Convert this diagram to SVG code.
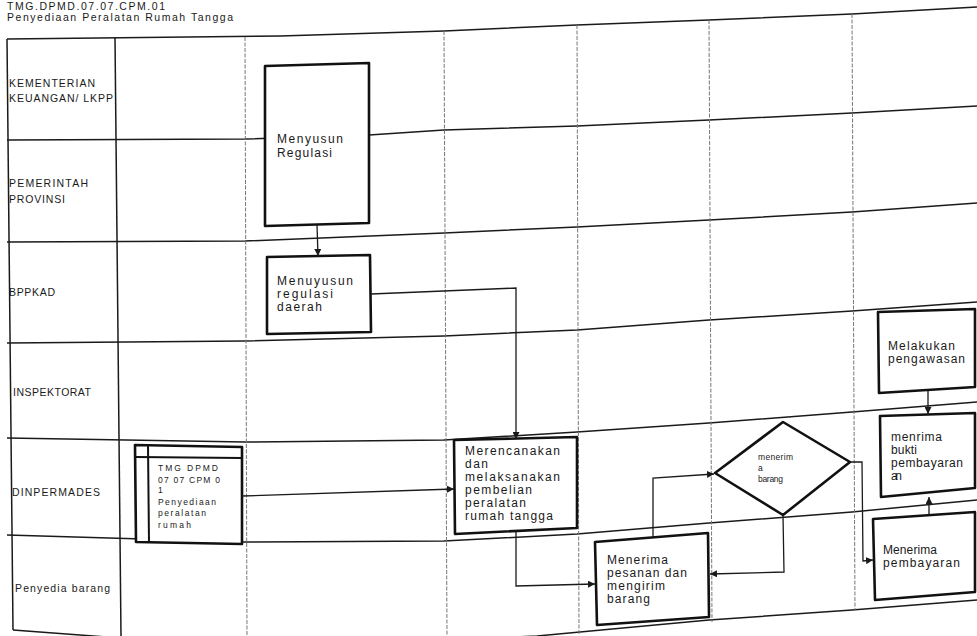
<svg xmlns="http://www.w3.org/2000/svg" width="977" height="636" viewBox="0 0 977 636">
<defs>
<style>
.lane{fill:none;stroke:#1a1a1a;stroke-width:1.5}
.col{fill:none;stroke:#777;stroke-width:1;stroke-dasharray:4 1.5}
.box{fill:#fff;stroke:#111;stroke-width:2.6;stroke-linejoin:round}
.thin{fill:none;stroke:#111;stroke-width:2}
.cn{fill:none;stroke:#1a1a1a;stroke-width:1.3;marker-end:url(#ah)}
.t{font-family:"Liberation Sans",Arial,sans-serif;fill:#1a1a1a}
.lbl{font-size:10.5px}
.bx{font-size:12px}
.sm{font-size:8.5px}
.ttl{font-size:10.5px}
</style>
<marker id="ah" viewBox="0 0 8 8" refX="8" refY="4" markerWidth="7" markerHeight="7" markerUnits="userSpaceOnUse" orient="auto">
<path d="M0,0 L8,4 L0,8 z" fill="#1a1a1a"/>
</marker>
</defs>
<rect width="977" height="636" fill="#fff"/>

<g id="title">
<text class="t ttl" x="7" y="9.5" textLength="158" lengthAdjust="spacing">TMG.DPMD.07.07.CPM.01</text>
<text class="t ttl" x="7" y="21" textLength="226" lengthAdjust="spacing">Penyediaan Peralatan Rumah Tangga</text>
</g>

<g id="grid">
<polyline class="lane" points="7,39 280,36 444,31 577,25 709,20 852,14 977,7"/>
<polyline class="lane" points="7,140 245,139 369,135 444,130 577,126 709,120 852,113 977,106"/>
<polyline class="lane" points="7,242 245,241 444,233 577,227 709,220 852,212 977,203"/>
<polyline class="lane" points="7,343 245,341 444,336 577,330 709,320 852,311 977,302"/>
<polyline class="lane" points="7,438 245,442 444,440 577,432 709,423 852,412 977,402"/>
<polyline class="lane" points="7,535 245,542 444,541 577,534 709,523 852,512 977,500"/>
<polyline class="lane" points="13,630 120,638 300,645 450,640 537,636 709,620 852,610 977,600"/>
<line class="lane" x1="7" y1="39" x2="13" y2="630" stroke-width="1.8"/>
<line class="lane" x1="115" y1="38" x2="121" y2="636"/>
<line class="col" x1="245" y1="37" x2="247" y2="636"/>
<line class="col" x1="444" y1="31" x2="447" y2="636"/>
<line class="col" x1="577" y1="25" x2="579" y2="634"/>
<line class="col" x1="709" y1="20" x2="712" y2="622"/>
<line class="col" x1="852" y1="14" x2="855" y2="610"/>
</g>

<g id="lanes">
<text class="t lbl" x="9" y="87" textLength="86" lengthAdjust="spacing">KEMENTERIAN</text>
<text class="t lbl" x="9" y="102" textLength="104" lengthAdjust="spacing">KEUANGAN/ LKPP</text>
<text class="t lbl" x="9" y="187" textLength="79" lengthAdjust="spacing">PEMERINTAH</text>
<text class="t lbl" x="9" y="203" textLength="56" lengthAdjust="spacing">PROVINSI</text>
<text class="t lbl" x="9" y="296" textLength="46" lengthAdjust="spacing">BPPKAD</text>
<text class="t lbl" x="13" y="396" textLength="78" lengthAdjust="spacing">INSPEKTORAT</text>
<text class="t lbl" x="12" y="496" textLength="88" lengthAdjust="spacing">DINPERMADES</text>
<text class="t lbl" x="15" y="592" textLength="95" lengthAdjust="spacing">Penyedia barang</text>
</g>

<g id="n-subproses">
<polygon class="box" points="135,445 242,447 242,544 136,542"/>
<line class="thin" x1="148" y1="445" x2="149" y2="543"/>
<line class="thin" x1="136" y1="457" x2="242" y2="458"/>
<text class="t sm" x="158" y="471" textLength="60" lengthAdjust="spacing">TMG DPMD</text>
<text class="t sm" x="158" y="483" textLength="62" lengthAdjust="spacing">07 07 CPM 0</text>
<text class="t sm" x="158" y="493">1</text>
<text class="t sm" x="158" y="505" textLength="58" lengthAdjust="spacing">Penyediaan</text>
<text class="t sm" x="158" y="516" textLength="48" lengthAdjust="spacing">peralatan</text>
<text class="t sm" x="158" y="528" textLength="33" lengthAdjust="spacing">rumah</text>
</g>

<g id="n-regulasi">
<polygon class="box" points="265,66 369,63 369,223 265,226"/>
<text class="t bx" x="277" y="143" textLength="66" lengthAdjust="spacing">Menyusun</text>
<text class="t bx" x="277" y="157" textLength="55" lengthAdjust="spacing">Regulasi</text>
</g>

<g id="n-regulasi-daerah">
<polygon class="box" points="267,257 370,255 371,332 267,334"/>
<text class="t bx" x="277" y="285" textLength="76" lengthAdjust="spacing">Menuyusun</text>
<text class="t bx" x="277" y="298" textLength="56" lengthAdjust="spacing">regulasi</text>
<text class="t bx" x="277" y="311" textLength="45" lengthAdjust="spacing">daerah</text>
</g>

<g id="n-merencanakan">
<polygon class="box" points="454,440 577,437 577,528 455,534"/>
<text class="t bx" x="465" y="455" textLength="95" lengthAdjust="spacing">Merencanakan</text>
<text class="t bx" x="465" y="468" textLength="23" lengthAdjust="spacing">dan</text>
<text class="t bx" x="465" y="481" textLength="95" lengthAdjust="spacing">melaksanakan</text>
<text class="t bx" x="465" y="494" textLength="67" lengthAdjust="spacing">pembelian</text>
<text class="t bx" x="465" y="507" textLength="61" lengthAdjust="spacing">peralatan</text>
<text class="t bx" x="465" y="520" textLength="88" lengthAdjust="spacing">rumah tangga</text>
</g>

<g id="n-menerima-pesanan">
<polygon class="box" points="595,542 708,533 709,617 597,625"/>
<text class="t bx" x="607" y="564" textLength="61" lengthAdjust="spacing">Menerima</text>
<text class="t bx" x="607" y="577" textLength="80" lengthAdjust="spacing">pesanan dan</text>
<text class="t bx" x="607" y="590" textLength="58" lengthAdjust="spacing">mengirim</text>
<text class="t bx" x="607" y="603" textLength="43" lengthAdjust="spacing">barang</text>
</g>

<g id="n-keputusan">
<polygon class="box" points="715,473 783,422 850,462 783,515"/>
<text class="t sm" x="758" y="460" textLength="35" lengthAdjust="spacing">menerim</text>
<text class="t sm" x="758" y="471">a</text>
<text class="t sm" x="758" y="482" textLength="25" lengthAdjust="spacing">barang</text>
</g>

<g id="n-pengawasan">
<polygon class="box" points="878,312 975,309 975,387 879,393"/>
<text class="t bx" x="888" y="350" textLength="67" lengthAdjust="spacing">Melakukan</text>
<text class="t bx" x="888" y="363" textLength="77" lengthAdjust="spacing">pengawasan</text>
</g>

<g id="n-bukti">
<polygon class="box" points="880,416 975,413 975,488 881,497"/>
<text class="t bx" x="891" y="441" textLength="51" lengthAdjust="spacing">menrima</text>
<text class="t bx" x="891" y="454" textLength="26" lengthAdjust="spacing">bukti</text>
<text class="t bx" x="891" y="467" textLength="72" lengthAdjust="spacing">pembayaran</text>
<text class="t bx" x="891" y="480" textLength="11" lengthAdjust="spacing">an</text>
</g>

<g id="n-pembayaran">
<polygon class="box" points="873,519 975,512 975,592 875,600"/>
<text class="t bx" x="883" y="554" textLength="54" lengthAdjust="spacing">Menerima</text>
<text class="t bx" x="883" y="567" textLength="77" lengthAdjust="spacing">pembayaran</text>
</g>

<g id="connectors">
<polyline class="cn" points="317,225 318,256"/>
<polyline class="cn" points="371,294 516,288 516,439"/>
<polyline class="cn" points="242,496 454,489"/>
<polyline class="cn" points="516,532 516,586 595,584"/>
<polyline class="cn" points="653,537 653,478 714,474"/>
<polyline class="cn" points="783,515 784,572 710,574"/>
<polyline class="cn" points="850,462 862,462 863,561 873,560"/>
<polyline class="cn" points="929,515 929,497"/>
<polyline class="cn" points="928,391 928,414"/>
</g>
</svg>
